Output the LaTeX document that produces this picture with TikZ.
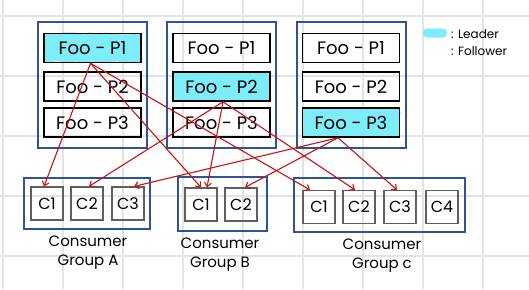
\documentclass[tikz,border=0pt]{standalone}
\usepackage{fontspec}
\setmainfont{Poppins}
\usetikzlibrary{arrows.meta,calc,decorations.pathmorphing}
\definecolor{gridc}{RGB}{228,228,228}
\definecolor{bluec}{RGB}{45,85,150}
\definecolor{cyanc}{RGB}{125,238,248}
\definecolor{redc}{RGB}{200,20,20}
\definecolor{cbox}{RGB}{95,95,95}
\begin{document}
\begin{tikzpicture}[x=1pt,y=-1pt,
  broker/.style={draw=bluec, line width=1.3pt, minimum width=109pt, minimum height=126pt, inner sep=0pt},
  part/.style={draw=black, line width=1.6pt, minimum width=97pt, minimum height=29pt, inner sep=0pt, font=\fontsize{18}{18}\selectfont},
  leader/.style={part, preaction={fill=cyanc, decorate, decoration={random steps, segment length=4pt, amplitude=1.2pt}}},
  grp/.style={draw=bluec, line width=1.3pt, inner sep=0pt},
  cons/.style={draw=cbox, line width=1.2pt, minimum width=32pt, minimum height=33pt, inner sep=0pt, font=\fontsize{16}{16}\selectfont},
  glabel/.style={align=center, font=\fontsize{15}{19}\selectfont, inner sep=0pt},
  legtext/.style={anchor=west, font=\fontsize{12}{12}\selectfont, inner sep=0pt},
  conn/.style={draw=redc, line width=1.1pt, -{Straight Barb[length=4pt,width=7pt]}}]
\useasboundingbox (0,0) rectangle (529,289);
\fill[white] (0,0) rectangle (529,289);
% grid
\foreach \x in {3,63,123,183,243,303,363,423,483}
  \draw[gridc, line width=2pt] (\x,0) -- (\x,289);
\foreach \y in {15.5,75.7,135.9,196.1,256.3}
  \draw[gridc, line width=2pt] (0,\y) -- (529,\y);
% brokers
\node[broker] (b1) at (92.5,85) {};
\node[broker] (b2) at (221.5,85) {};
\node[broker] (b3) at (351.5,85) {};
\node[leader] (p11) at (92.5,48) {Foo - P1};
\node[part] (p12) at (92.5,86.5) {Foo - P2};
\node[part] (p13) at (92.5,122.5) {Foo - P3};
\node[part] (p21) at (221.5,48) {Foo - P1};
\node[leader] (p22) at (221.5,86.5) {Foo - P2};
\node[part] (p23) at (221.5,122.5) {Foo - P3};
\node[part] (p31) at (351,48) {Foo - P1};
\node[part] (p32) at (351,86.5) {Foo - P2};
\node[leader] (p33) at (351,122.5) {Foo - P3};
% legend
\node[fill=cyanc, rounded corners=4pt, minimum width=24pt, minimum height=9pt, inner sep=0pt] (leg) at (435,33) {};
\node[legtext] (legl) at (451,34) {: Leader};
\node[legtext] (legf) at (451,51) {: Follower};
% consumer groups
\node[grp, minimum width=126pt, minimum height=51pt] (ga) at (87,203.5) {};
\node[grp, minimum width=89pt, minimum height=54pt] (gb) at (222.5,204) {};
\node[grp, minimum width=171pt, minimum height=54pt] (gc) at (379.5,205) {};
\node[cons] (ac1) at (47,203.5) {C1};
\node[cons] (ac2) at (87,203.5) {C2};
\node[cons] (ac3) at (128,203.5) {C3};
\node[cons] (bc1) at (201,204.5) {C1};
\node[cons] (bc2) at (241,204.5) {C2};
\node[cons] (cc1) at (319,207) {C1};
\node[cons] (cc2) at (359,207) {C2};
\node[cons] (cc3) at (400,207) {C3};
\node[cons] (cc4) at (442,207) {C4};
\node[glabel] (la) at (88,252.5) {Consumer\\Group A};
\node[glabel] (lb) at (220,254.5) {Consumer\\Group B};
\node[glabel] (lc) at (382,255.5) {Consumer\\Group c};
% sources
\coordinate (s1) at ([xshift=-2pt]p11.south);
\coordinate (s2) at ([xshift=1.5pt]p22.south);
\coordinate (s3) at ([xshift=-13pt]p33.south);
% connectors
\draw[conn] (s1) -- ([xshift=-3pt]ac1.north);
\draw[conn] (s1) -- (bc1.north);
\draw[conn] (s1) -- ([xshift=-9pt]cc1.north);
\draw[conn] (s2) -- ([xshift=2pt]ac2.north);
\draw[conn] (s2) -- ([xshift=6pt]bc1.north);
\draw[conn] (s2) -- ([xshift=-4pt]cc2.north);
\draw[conn] (s3) -- ([xshift=6pt]ac3.north);
\draw[conn] (s3) -- ([xshift=4pt]bc2.north);
\draw[conn] (s3) -- ([xshift=-3pt]cc3.north);
\end{tikzpicture}
\end{document}
